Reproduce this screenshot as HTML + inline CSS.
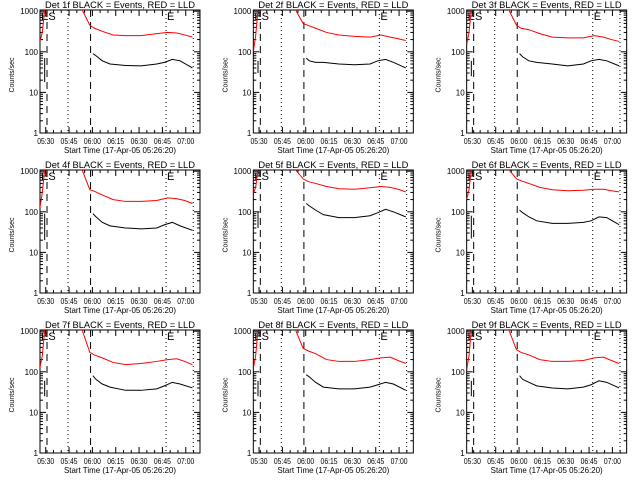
<!DOCTYPE html>
<html><head><meta charset="utf-8"><style>
html,body{margin:0;padding:0;background:#fff;}
svg{display:block;font-family:"Liberation Sans",sans-serif;}
</style></head><body>
<svg id="chart" width="640" height="480" viewBox="0 0 640 480"></svg>
<script>
const detNames = ["1f","2f","3f","4f","5f","6f","7f","8f","9f"];
const yTicks = [1,10,100,1000];
const yTickLabels = ["1","10","100","1000"];
const xTickMinutes = [3.67,18.67,33.67,48.67,63.67,78.67,93.67];
const xTickLabels = ["05:30","05:45","06:00","06:15","06:30","06:45","07:00"];
const dashedLines = [4.5,32.5];
const dottedLines = [18,81,98.5];
const tEarly = [0,1.5,3];
const redEarly = [[180,300,1100],[100,250,1100],[150,300,1100],[130,300,1100],[280,400,1100],[200,350,1100],[130,250,1100],[120,250,1100],[110,250,1100]];
const tRed = [27,32,35,40,47,55,65,75,82,88,93,98];
const redVals = [
 [1100,450,380,320,260,250,250,280,300,290,260,230],
 [1100,500,450,380,300,260,240,230,260,230,210,190],
 [1100,450,380,350,280,230,220,220,250,230,200,180],
 [1100,350,320,260,200,180,180,190,220,210,190,160],
 [1100,650,560,500,420,370,360,390,420,400,360,310],
 [1100,650,580,500,400,350,330,340,360,360,330,310],
 [1100,300,260,220,170,150,160,180,200,210,180,150],
 [1100,380,330,280,200,180,180,200,220,230,190,160],
 [1100,350,300,260,200,180,180,190,220,230,190,160]];
const tBlk = [34,36,40,45,55,65,75,80,85,90,98];
const blkVals = [
 [90,80,60,50,46,45,50,55,65,60,40],
 [70,60,55,55,50,48,50,60,65,55,40],
 [90,75,60,55,50,45,50,60,65,60,45],
 [90,75,55,45,40,38,40,48,55,45,35],
 [160,140,110,85,72,72,80,95,115,100,75],
 [110,95,75,60,52,52,55,60,75,72,48],
 [80,65,50,42,35,35,38,45,55,50,40],
 [85,75,55,42,38,38,42,48,55,50,35],
 [80,65,55,45,40,38,42,48,60,55,40]];
const blkSpikeLo = [18,30,25,20,40,22,25,25,25];
const blkSpikeHi = [70,60,60,90,100,80,60,60,60];

const NS="http://www.w3.org/2000/svg";
const svg=document.getElementById('chart');
const X0=40,X1=200,Y0=10,Y1=133,PXM=1.556,PXD=40.6;
const xs=t=>X0+t*PXM;
const ys=v=>Y1-Math.log10(v)*PXD;
function el(tag,attrs,parent){const e=document.createElementNS(NS,tag);for(const k in attrs)e.setAttribute(k,attrs[k]);parent.appendChild(e);return e;}
function txt(s,attrs,parent){const e=el('text',attrs,parent);e.textContent=s;return e;}

for(let p=0;p<9;p++){
 const col=p%3,row=Math.floor(p/3);
 const g=el('g',{transform:`translate(${col*213.33},${row*160})`},svg);
 
 
 const t=txt(`Det ${detNames[p]} BLACK = Events, RED = LLD`,{x:45,y:8,'font-size':'9',textLength:150,lengthAdjust:'spacingAndGlyphs'},g);
 
 
 const box=el('rect',{x:X0,y:Y0,width:X1-X0,height:Y1-Y0,fill:'none',stroke:'#000','stroke-width':1},g);
 
 
 for(let i=0;i<yTicks.length;i++){
  const y=ys(yTicks[i]);
  el('line',{x1:X0,x2:X0+6,y1:y,y2:y,stroke:'#000'},g);
  el('line',{x1:X1,x2:X1-6,y1:y,y2:y,stroke:'#000'},g);
  const l=txt(yTickLabels[i],{x:38,y:y+3,'text-anchor':'end','font-size':'8'},g);
  
  
  if(i<yTicks.length-1){for(let m=2;m<10;m++){const ym=ys(yTicks[i]*m);
   el('line',{x1:X0,x2:X0+3,y1:ym,y2:ym,stroke:'#000'},g);
   el('line',{x1:X1,x2:X1-3,y1:ym,y2:ym,stroke:'#000'},g);}}
 }
 for(let i=0;i<xTickMinutes.length;i++){
  const x=xs(xTickMinutes[i]);
  el('line',{x1:x,x2:x,y1:Y1,y2:Y1-6,stroke:'#000'},g);
  el('line',{x1:x,x2:x,y1:Y0,y2:Y0+6,stroke:'#000'},g);
  for(let m=1;m<3;m++){const xm=xs(xTickMinutes[i]+m*5);if(xm<X1){
   el('line',{x1:xm,x2:xm,y1:Y1,y2:Y1-3,stroke:'#000'},g);
   el('line',{x1:xm,x2:xm,y1:Y0,y2:Y0+3,stroke:'#000'},g);}}
  const l=txt(xTickLabels[i],{x:x-8.5,y:144,'font-size':'8',textLength:17,lengthAdjust:'spacingAndGlyphs'},g);
  
  
 }
 const xt=txt('Start Time (17-Apr-05 05:26:20)',{x:64,y:153,'font-size':'8.5',textLength:112,lengthAdjust:'spacingAndGlyphs'},g);
 
 
 const yt=txt('Counts/sec',{x:0,y:0,'text-anchor':'middle','font-size':'7',transform:'translate(14,75) rotate(-90)'},g);
 
 
 for(const d of dashedLines){const l=el('line',{x1:xs(d),x2:xs(d),y1:Y0,y2:Y1,stroke:'#000','stroke-dasharray':'7,5'},g);
  
  }
 for(const d of dottedLines){const l=el('line',{x1:xs(d),x2:xs(d),y1:Y0,y2:Y1,stroke:'#000','stroke-dasharray':'1,3'},g);
  
  }
 const es=txt('ES',{x:41,y:20,'font-size':'11'},g);
 
 
 const e=txt('E',{x:xs(dottedLines[1])+1,y:20,'font-size':'11'},g);
 
 
 const clip=`c${p}`;
 const cp=el('clipPath',{id:clip},g);el('rect',{x:X0,y:Y0,width:X1-X0,height:Y1-Y0},cp);
 const re=el('polyline',{points:tEarly.map((t,i)=>xs(t)+','+ys(redEarly[p][i])).join(' '),fill:'none',stroke:'#f00','clip-path':`url(#${clip})`},g);
 
 
 const r=el('polyline',{points:tRed.map((t,i)=>xs(t)+','+ys(redVals[p][i])).join(' '),fill:'none',stroke:'#f00','clip-path':`url(#${clip})`},g);
 
 
 const sp=el('line',{x1:xs(3),x2:xs(3),y1:ys(blkSpikeLo[p]),y2:ys(blkSpikeHi[p]),stroke:'#000'},g);
 
 
 const b=el('polyline',{points:tBlk.map((t,i)=>xs(t)+','+ys(blkVals[p][i])).join(' '),fill:'none',stroke:'#000'},g);
 
 
}
</script>
</body></html>
